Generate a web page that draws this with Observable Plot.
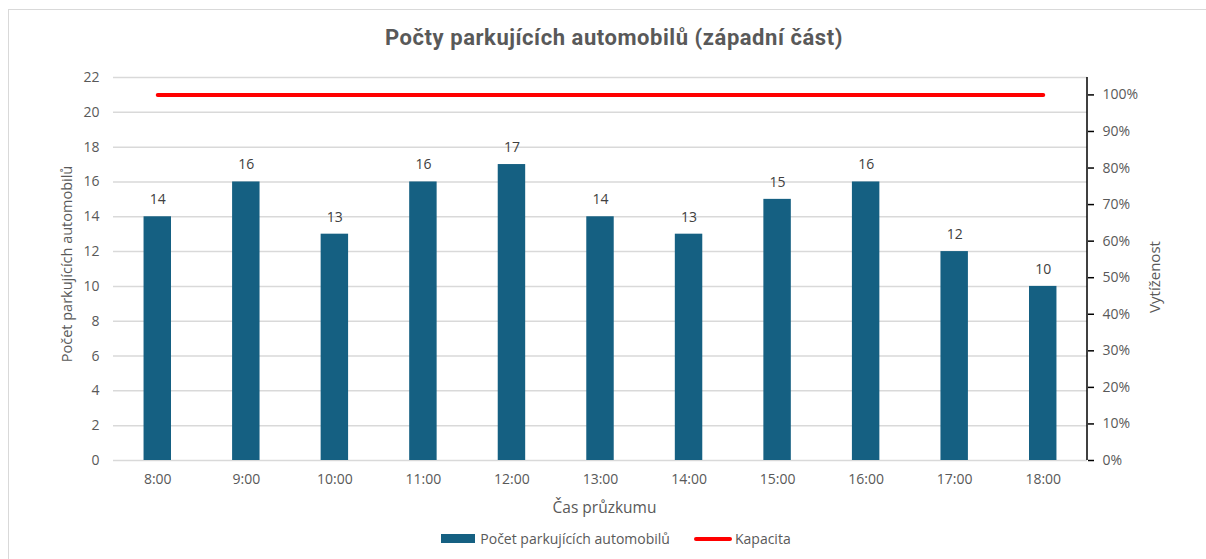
<!DOCTYPE html>
<html>
<head>
<meta charset="utf-8">
<script src="https://cdn.jsdelivr.net/npm/d3@7"></script>
<script src="https://cdn.jsdelivr.net/npm/@observablehq/plot@0.6"></script>
<style>
  html, body { margin: 0; padding: 0; background: #fff; }
  #wrap { position: relative; width: 1206px; height: 559px; overflow: hidden; font-family: "Open Sans", sans-serif; }
  #frame { position: absolute; left: 8px; top: 9px; width: 1300px; height: 700px; border: 1.5px solid #d9d9d9; box-sizing: border-box; }
  #title { position: absolute; left: 11px; width: 1206px; top: 25px; text-align: center; font-family: Roboto, sans-serif; font-weight: bold; font-size: 22px; color: #595959; letter-spacing: 0.55px; }
  #chart { position: absolute; left: 0; top: 50px; }
  #legend { position: absolute; left: 13px; width: 1206px; top: 529px; display: flex; justify-content: center; align-items: center; font-size: 14px; color: #595959; }
  .sw { display: inline-block; margin-right: 5px; }
  .item { display: flex; align-items: center; margin: 0 12px; }
</style>
</head>
<body>
<div id="wrap">
  <div id="frame"></div>
  <div id="title">Počty parkujících automobilů (západní část)</div>
  <div id="chart"></div>
  <div id="legend">
    <div class="item"><span class="sw" style="width:34px;height:9px;background:#156082"></span>Počet parkujících automobilů</div>
    <div class="item"><span class="sw" style="width:38px;height:4px;background:#ff0000;border-radius:2px;margin-right:3px"></span>Kapacita</div>
  </div>
</div>
<script>
const casy = ["8:00","9:00","10:00","11:00","12:00","13:00","14:00","15:00","16:00","17:00","18:00"];
const pocty = [14,16,13,16,17,14,13,15,16,12,10];
const kapacita = [21,21,21,21,21,21,21,21,21,21,21];
const leveTicky = [0,2,4,6,8,10,12,14,16,18,20,22];
const praveTicky = [0,10,20,30,40,50,60,70,80,90,100];
const kapacitaMax = 21;

const data = casy.map((c, i) => ({cas: c, pocet: pocty[i], kap: kapacita[i]}));

const fontFam = "'Open Sans', sans-serif";

// right axis line drawn along the frame's right edge
function pravaOsa(index, scales, values, dimensions) {
  const {width, height, marginRight, marginTop, marginBottom} = dimensions;
  const x = width - marginRight;
  const g = d3.create("svg:line")
    .attr("x1", x).attr("x2", x)
    .attr("y1", marginTop).attr("y2", height - marginBottom)
    .attr("stroke", "#000").attr("stroke-width", 1.5);
  return g.node();
}

const plot = Plot.plot({
  width: 1206,
  height: 470,
  marginLeft: 113,
  marginRight: 119,
  marginTop: 27,
  marginBottom: 60,
  style: {fontFamily: fontFam, fontSize: "14px", color: "#595959", background: "transparent"},
  x: {domain: casy, paddingInner: 0.69, paddingOuter: 0.345, round: false},
  y: {domain: [0, 22]},
  marks: [
    Plot.gridY(leveTicky, {stroke: "#d9d9d9", strokeOpacity: 1, strokeWidth: 1.5}),
    Plot.axisY(leveTicky, {anchor: "left", tickSize: 0, tickPadding: 14, label: null, fill: "#595959"}),
    Plot.axisY(praveTicky.map(p => p * kapacitaMax / 100), {
      anchor: "right", tickSize: 6, tickPadding: 9, label: null, fill: "#595959",
      stroke: "#000", strokeWidth: 1.5,
      tickFormat: d => Math.round(d / kapacitaMax * 100) + "%"
    }),
    pravaOsa,
    Plot.axisX({tickSize: 0, tickPadding: 14, label: null, fill: "#595959", fontSize: 14}),
    Plot.text(["Čas průzkumu"], {frameAnchor: "bottom", lineAnchor: "middle", dx: 4, dy: 48, fill: "#595959", fontSize: 15.5}),
    Plot.barY(data, {x: "cas", y: "pocet", fill: "#156082"}),
    Plot.text(data, {x: "cas", y: "pocet", text: d => String(d.pocet), dy: -17, fill: "#404040", fontSize: 14}),
    Plot.lineY(data, {x: "cas", y: "kap", stroke: "#ff0000", strokeWidth: 4, strokeLinecap: "round"}),
    Plot.text(["Počet parkujících automobilů"], {frameAnchor: "left", textAnchor: "middle", dx: -46, dy: -5, rotate: -90, fill: "#595959", fontSize: 14.5}),
    Plot.text(["Vytíženost"], {frameAnchor: "right", textAnchor: "middle", dx: 68, dy: 8, rotate: -90, fill: "#595959", fontSize: 15})
  ]
});
document.getElementById("chart").appendChild(plot);
</script>
</body>
</html>
